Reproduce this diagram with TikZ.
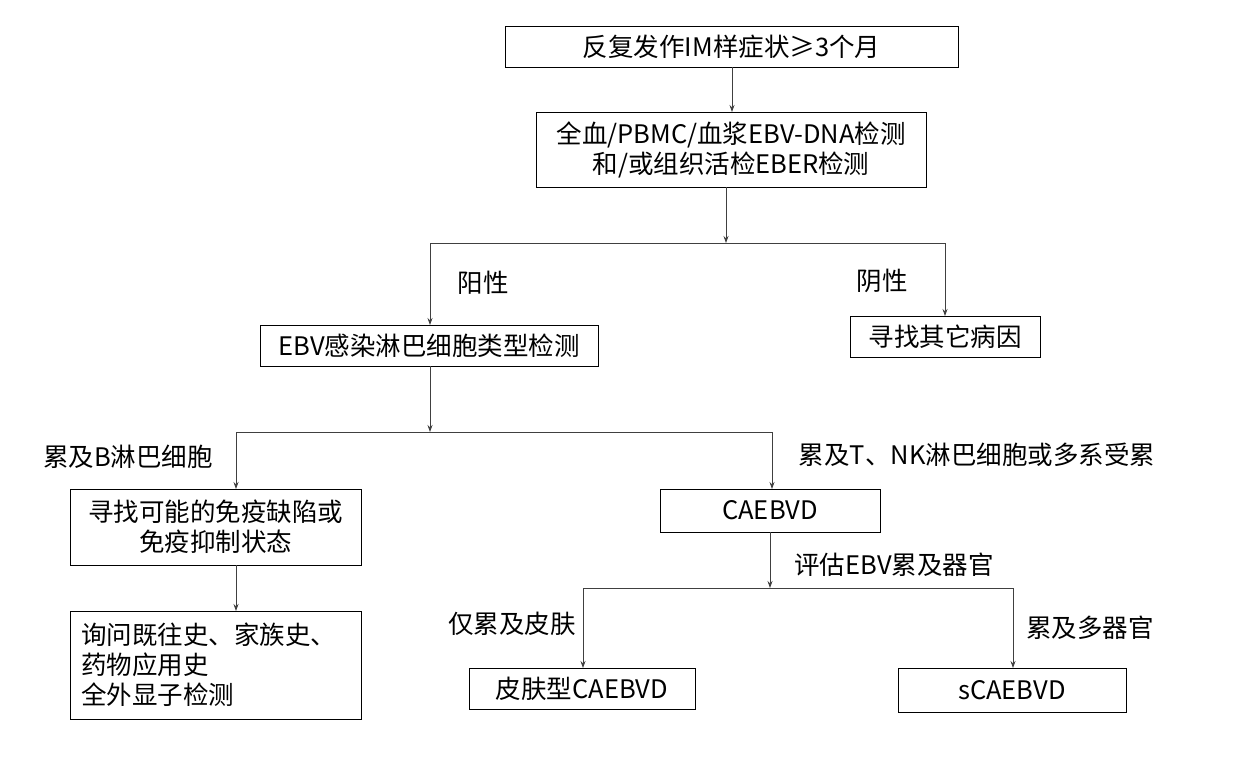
\documentclass[tikz,border=0pt]{standalone}
\usepackage{fontspec}
\setmainfont{Noto Sans CJK SC}
\usetikzlibrary{arrows.meta}
\begin{document}
\begin{tikzpicture}[x=1pt,y=-1pt,
  box/.style={draw=black,line width=0.9pt,inner sep=0pt},
  ln/.style={draw=black!75,line width=0.8pt},
  ar/.style={ln,-{Stealth[length=7pt,width=5pt]}}]
\useasboundingbox (0,0) rectangle (1249,757);
\tikzset{every node/.style={font=\fontsize{25.5}{30}\selectfont,inner sep=0pt}}
% boxes
\draw[box] (505,26) rectangle (958,67); \node (b1) at (731.5,46.5) {反复发作IM样症状≥3个月};
\coordinate (b1s) at (732,67);
\draw[box] (536,112) rectangle (926,187); \node[align=center] at (731,149.5) {全血/PBMC/血浆EBV-DNA检测\\和/或组织活检EBER检测};
\coordinate (b2n) at (732,112); \coordinate (b2s) at (726,187);
\draw[box] (260,325) rectangle (598,366); \node at (429,345.5) {EBV感染淋巴细胞类型检测};
\draw[box] (850,316) rectangle (1040,357); \node at (945,336.5) {寻找其它病因};
\draw[box] (70,489) rectangle (361,565); \node[align=center] at (215.5,527) {寻找可能的免疫缺陷或\\免疫抑制状态};
\draw[box] (660,489) rectangle (880,532); \node at (770,510.5) {CAEBVD};
\draw[box] (70,611) rectangle (361,719); \node[align=left,anchor=west] at (81,665) {询问既往史、家族史、\\药物应用史\\全外显子检测};
\draw[box] (469,668) rectangle (695,709); \node at (582,688.5) {皮肤型CAEBVD};
\draw[box] (898,668) rectangle (1126,712); \node at (1012,690) {sCAEBVD};
% connectors
\coordinate (j1) at (726,243); \coordinate (l1) at (430,243); \coordinate (r1) at (945,243);
\coordinate (b3n) at (430,325); \coordinate (b4n) at (945,316);
\draw[ar] (b1s) -- (b2n);
\draw[ar] (b2s) -- (j1);
\draw[ln] (l1) -- (r1);
\draw[ar] (l1) -- (b3n);
\draw[ar] (r1) -- (b4n);
\coordinate (b3s) at (430,366); \coordinate (j2) at (430,432);
\coordinate (l2) at (236,432); \coordinate (r2) at (772,432);
\draw[ar] (b3s) -- (j2);
\draw[ln] (l2) -- (r2);
\draw[ar] (l2) -- (236,489);
\draw[ar] (r2) -- (772,489);
\draw[ar] (236,565) -- (236,611);
\coordinate (b6s) at (770,532); \coordinate (j3) at (770,588);
\coordinate (l3) at (583,588); \coordinate (r3) at (1013,588);
\draw[ar] (b6s) -- (j3);
\draw[ln] (l3) -- (r3);
\draw[ar] (l3) -- (583,668);
\draw[ar] (r3) -- (1013,668);
% labels
\node at (483,283) {阳性};
\node at (882,281) {阴性};
\node at (128,457) {累及B淋巴细胞};
\node at (977,455) {累及T、NK淋巴细胞或多系受累};
\node at (894,565) {评估EBV累及器官};
\node at (512,624) {仅累及皮肤};
\node at (1090,628) {累及多器官};
\end{tikzpicture}
\end{document}
